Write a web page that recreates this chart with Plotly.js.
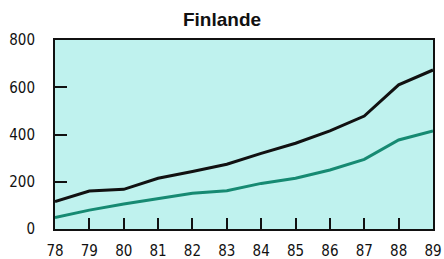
<!DOCTYPE html>
<html><head><meta charset="utf-8">
<script src="https://cdn.plot.ly/plotly-3.0.1.min.js"></script>
<style>html,body{margin:0;padding:0;background:#fff}</style>
</head><body><div id="c" style="width:444px;height:259px"></div>
<script>
const years = [78,79,80,81,82,83,84,85,86,87,88,89];
const yearLabels = ['78','79','80','81','82','83','84','85','86','87','88','89'];
const seriesBlack = [116,161,168,215,243,274,320,363,415,478,610,673];
const seriesGreen = [48,80,106,127,151,162,193,215,250,295,377,415];
const yTicks = [0,200,400,600,800];

const font = "'DejaVu Sans Condensed','Liberation Sans Narrow','Liberation Sans',Arial,sans-serif";
const traces = [
  {x: years, y: seriesGreen, mode:'lines', line:{color:'#168a72', width:3}, hoverinfo:'skip'},
  {x: years, y: seriesBlack, mode:'lines', line:{color:'#111', width:3}, hoverinfo:'skip'}
];
const layout = {
  width:444, height:259,
  margin:{l:55,r:11,t:40,b:30},
  paper_bgcolor:'#fff', plot_bgcolor:'#bff2ee',
  showlegend:false,
  title:{text:'<b>Finlande</b>', font:{family:"'Liberation Sans',Arial,sans-serif", size:19, color:'#111'}, x:0.5, xanchor:'center', y:0.925, yanchor:'middle'},
  xaxis:{range:[78,89], tickvals:years, ticktext:yearLabels, ticks:'inside', ticklen:11, tickwidth:2, tickcolor:'#111',
    showgrid:false, zeroline:false, showline:true, linecolor:'#111', linewidth:2, mirror:true,
    tickfont:{family:font, size:15, color:'#111'}, ticklabelstandoff:7},
  yaxis:{range:[0,800], tickvals:yTicks, ticks:'inside', ticklen:12, tickwidth:2, tickcolor:'#111',
    showgrid:false, zeroline:false, showline:true, linecolor:'#111', linewidth:2, mirror:true,
    tickfont:{family:font, size:15, color:'#111'}, ticklabelstandoff:15}
};
Plotly.newPlot('c', traces, layout, {staticPlot:true, displayModeBar:false});
</script></body></html>
